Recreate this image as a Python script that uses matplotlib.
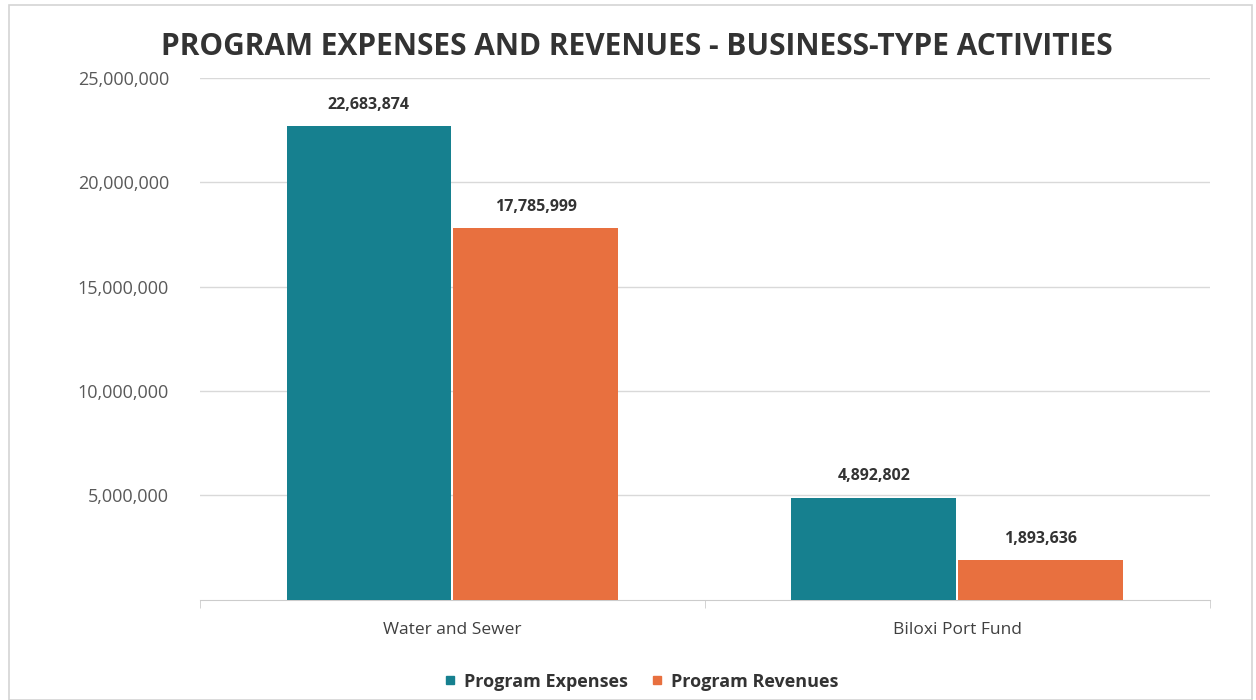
import matplotlib.pyplot as plt
import numpy as np
from matplotlib.lines import Line2D
from matplotlib.patches import Rectangle
from matplotlib.ticker import FuncFormatter

plt.rcParams.update({
    "font.family": ["Open Sans", "DejaVu Sans"],
})

categories = ["Water and Sewer", "Biloxi Port Fund"]
expenses = [22683874, 4892802]
revenues = [17785999, 1893636]
series_names = ["Program Expenses", "Program Revenues"]
colors = ["#16808f", "#e8703f"]

fig = plt.figure(figsize=(12.56, 7.0), dpi=100)
ax = fig.add_axes([0.159, 0.143, 0.804, 0.746])

# light frame around the whole chart area
fig.patches.append(Rectangle((0.007, 0.0), 0.99, 0.993, transform=fig.transFigure,
                             fill=False, edgecolor="#d4d4d4", linewidth=1.2))

x = np.arange(len(categories))
w = 0.33
for i, (vals, name) in enumerate(zip([expenses, revenues], series_names)):
    pos = x + (i - 0.5) * w
    ax.bar(pos, vals, width=w - 0.004, color=colors[i], label=name, zorder=3)
    for px, v in zip(pos, vals):
        ax.text(px, v + 650000, f"{v:,}", ha="center", va="bottom",
                fontsize=11.5, fontweight="bold", color="#333333")

ax.set_xlim(-0.5, 1.5)
ax.set_ylim(0, 25000000)
ax.set_yticks([5000000, 10000000, 15000000, 20000000, 25000000])
ax.yaxis.set_major_formatter(FuncFormatter(lambda v, p: f"{int(v):,}"))
ax.grid(axis="y", color="#d9d9d9", linewidth=1, zorder=0)

ax.set_xticks(x)
ax.set_xticklabels(categories)
ax.set_xticks([-0.5, 0.5, 1.5], minor=True)
ax.tick_params(axis="x", which="major", length=0, pad=16, labelsize=12.5, labelcolor="#404040")
ax.tick_params(axis="x", which="minor", length=6, color="#cccccc")
ax.tick_params(axis="y", length=0, pad=22, labelsize=13, labelcolor="#595959")

for s in ["top", "right", "left"]:
    ax.spines[s].set_visible(False)
ax.spines["bottom"].set_color("#cccccc")

fig.text(0.507, 0.933, "PROGRAM EXPENSES AND REVENUES - BUSINESS-TYPE ACTIVITIES",
         ha="center", va="center", fontsize=21.5, fontweight="bold", color="#333333")

# small square markers for the legend keys
handles = [Line2D([0], [0], marker="s", linestyle="", markersize=6, color=c) for c in colors]
fig.legend(handles, series_names, loc="center", bbox_to_anchor=(0.51, 0.026),
           ncol=2, frameon=False, handlelength=0.8, handletextpad=0.4,
           columnspacing=1.2, labelcolor="#333333",
           prop={"weight": "bold", "size": 13})

fig.savefig("out.png", dpi=100)
